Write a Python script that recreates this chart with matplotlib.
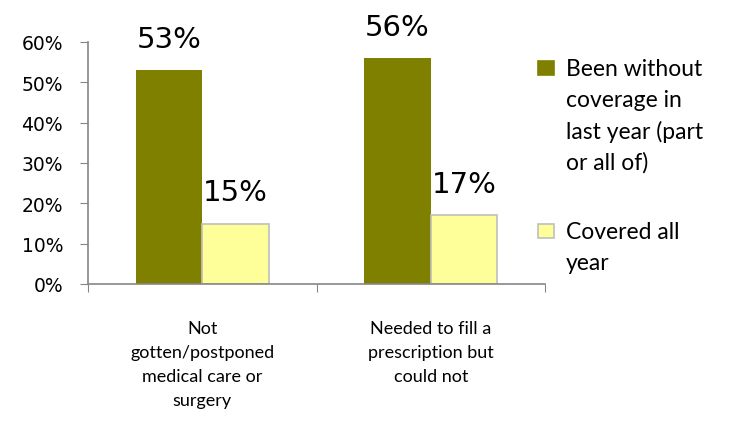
import matplotlib
matplotlib.use("Agg")
import matplotlib.pyplot as plt
import numpy as np
from matplotlib.patches import Rectangle

categories = ["Not\ngotten/postponed\nmedical care or\nsurgery",
              "Needed to fill a\nprescription but\ncould not"]
series_names = ["Been without\ncoverage in\nlast year (part\nor all of)",
                "Covered all\nyear"]
without_cov = [53, 56]
covered = [15, 17]
yticks = [0, 10, 20, 30, 40, 50, 60]

plt.rcParams['font.family'] = ['Lato', 'DejaVu Sans']

W, H = 741, 439
fig = plt.figure(figsize=(W/100, H/100), dpi=100)
ax = fig.add_axes([88/W, 1-285/H, (545-88)/W, (285-43)/H])

x = np.arange(len(categories))
w = 0.29
dark = "#808000"
light = "#FFFF99"
b1 = ax.bar(x - w/2, without_cov, w, color=dark, edgecolor=dark, linewidth=0)
b2 = ax.bar(x + w/2, covered, w, color=light, edgecolor="#BFBFBF", linewidth=1.2)

for rect, v in zip(list(b1) + list(b2), without_cov + covered):
    ax.text(rect.get_x() + rect.get_width()/2, v + 4.3, f"{v}%",
            ha="center", va="bottom", fontsize=21, color="black",
            family="DejaVu Sans")

ax.set_xlim(-0.5, len(categories) - 0.5)
ax.set_ylim(0, 60)
ax.set_yticks(yticks)
ax.set_yticklabels([f"{t}%" for t in yticks], fontsize=13.5, family="DejaVu Sans")
ax.set_xticks([-0.5, 0.5, 1.5], minor=False)
ax.set_xticklabels([])
ax.set_xticks(x, minor=True)
ax.set_xticklabels(categories, minor=True, fontsize=13, linespacing=1.62)
ax.tick_params(axis='x', which='minor', length=0, pad=26)
ax.tick_params(axis='x', which='major', length=6, color="#868686", direction='out')
ax.tick_params(axis='y', length=6, color="#868686", pad=12)
for s in ["top", "right"]:
    ax.spines[s].set_visible(False)
for s in ["left", "bottom"]:
    ax.spines[s].set_color("#868686")
    ax.spines[s].set_linewidth(1.2)

# legend (manual layout to match reference: marker aligned with first line)
leg_items = [(dark, dark, series_names[0], 62),
             (light, "#BFBFBF", series_names[1], 225)]
for fc, ec, label, ytop in leg_items:
    fig.patches.append(Rectangle((538/W, 1-(ytop+14)/H), 16/W, 14/H,
                                 transform=fig.transFigure, facecolor=fc,
                                 edgecolor=ec, linewidth=1.2))
    fig.text(566/W, 1-(ytop-3)/H, label, ha="left", va="top",
             fontsize=16.5, linespacing=1.56)

fig.savefig("out.png", dpi=100)
